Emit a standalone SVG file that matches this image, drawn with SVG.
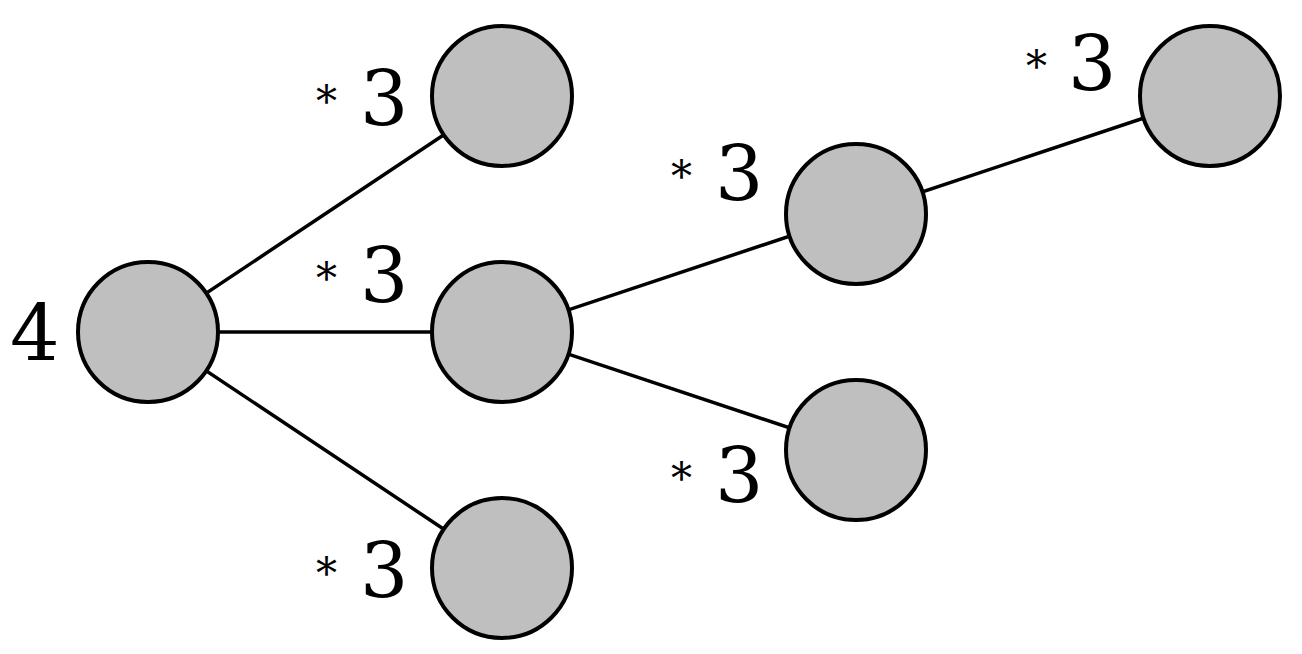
<svg xmlns="http://www.w3.org/2000/svg" width="1302" height="654" viewBox="0 0 1302 654">
<style>
.node{fill:#bfbfbf;stroke:#000;stroke-width:4}
.edge{stroke:#000;stroke-width:3.5;fill:none}
text{font-family:'DejaVu Serif','Liberation Serif',serif;font-size:76px;fill:#000}
.ast{font-size:42px}
</style>
<rect width="1302" height="654" fill="#fff"/>
<g id="connectors">
<line class="edge" x1="148" y1="332" x2="502" y2="96"/>
<line class="edge" x1="148" y1="332" x2="502" y2="332"/>
<line class="edge" x1="148" y1="332" x2="502" y2="568"/>
<line class="edge" x1="502" y1="332" x2="856" y2="214"/>
<line class="edge" x1="502" y1="332" x2="856" y2="450"/>
<line class="edge" x1="856" y1="214" x2="1210" y2="96"/>
</g>
<g id="root">
<circle class="node" cx="148" cy="332" r="70"/>
<text x="10" y="361" style="font-size:78px">4</text>
</g>
<g id="n_top">
<circle class="node" cx="502" cy="96" r="70"/>
<text><tspan class="ast" x="316" y="116">*</tspan><tspan x="360" y="125">3</tspan></text>
</g>
<g id="n_mid">
<circle class="node" cx="502" cy="332" r="70"/>
<text><tspan class="ast" x="316" y="293">*</tspan><tspan x="360" y="302">3</tspan></text>
</g>
<g id="n_bot">
<circle class="node" cx="502" cy="568" r="70"/>
<text><tspan class="ast" x="316" y="588">*</tspan><tspan x="360" y="597">3</tspan></text>
</g>
<g id="n_mid_up">
<circle class="node" cx="856" cy="214" r="70"/>
<text><tspan class="ast" x="671" y="191">*</tspan><tspan x="715" y="200">3</tspan></text>
</g>
<g id="n_mid_down">
<circle class="node" cx="856" cy="450" r="70"/>
<text><tspan class="ast" x="671" y="493">*</tspan><tspan x="715" y="502">3</tspan></text>
</g>
<g id="n_far">
<circle class="node" cx="1210" cy="96" r="70"/>
<text><tspan class="ast" x="1026" y="81">*</tspan><tspan x="1068" y="90">3</tspan></text>
</g>
</svg>
